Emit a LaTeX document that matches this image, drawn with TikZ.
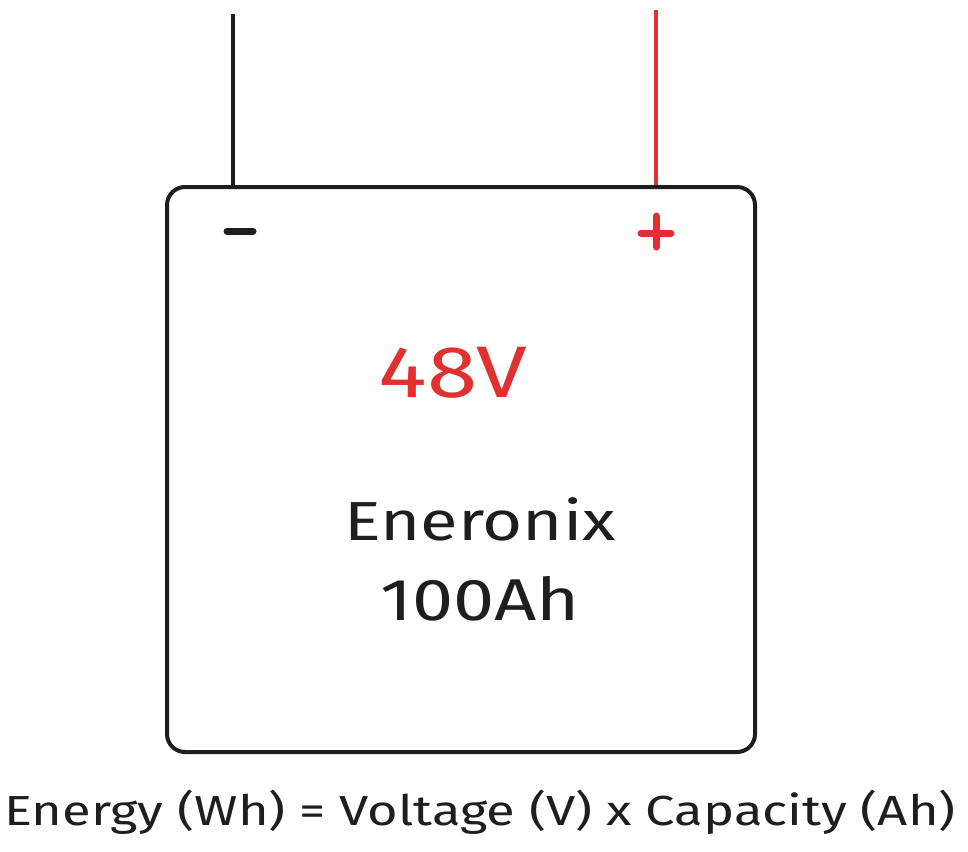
\documentclass[tikz,border=0pt]{standalone}
\usepackage{fontspec}
\setmainfont[FakeStretch=1.25]{Fira Sans}
\definecolor{ink}{HTML}{1E1E1E}
\definecolor{xred}{HTML}{E03131}
\begin{document}
\begin{tikzpicture}[x=1pt,y=-1pt,
  wire/.style={line width=4pt},
  sign/.style={line width=7pt,line cap=round},
  label/.style={inner sep=0pt,text=ink}]
\useasboundingbox (0,0) rectangle (968,851);
\node[draw=ink,line width=4pt,rounded corners=18pt,minimum width=588pt,minimum height=565pt,inner sep=0pt] (bat) at (461,469.5) {};
\coordinate (nt) at (233,14);
\coordinate (pt) at (656,10);
\draw[wire,ink] (nt) -- (nt |- bat.north);
\draw[wire,xred] (pt) -- (pt |- bat.north);
% minus sign
\coordinate (m1) at (227,231);
\coordinate (m2) at (253,231);
\draw[sign,ink] (m1) -- (m2);
% plus sign
\coordinate (p1) at (641,233);
\coordinate (p2) at (671,233);
\coordinate (p3) at (656,216);
\coordinate (p4) at (656,247);
\draw[sign,xred] (p1) -- (p2);
\draw[sign,xred] (p3) -- (p4);
\node[label,text=xred,font=\fontsize{73}{76}\selectfont] (volt) at (453,373) {48V};
\node[label,font=\fontsize{55}{60}\selectfont] (brand) at (480,519) {Eneronix};
\node[label,font=\fontsize{59}{62}\selectfont] (cap) at (480,599) {100Ah};
\node[label,font=\fontsize{42}{50}\selectfont] (formula) at (480,812) {Energy (Wh) = Voltage (V) x Capacity (Ah)};
\end{tikzpicture}
\end{document}
